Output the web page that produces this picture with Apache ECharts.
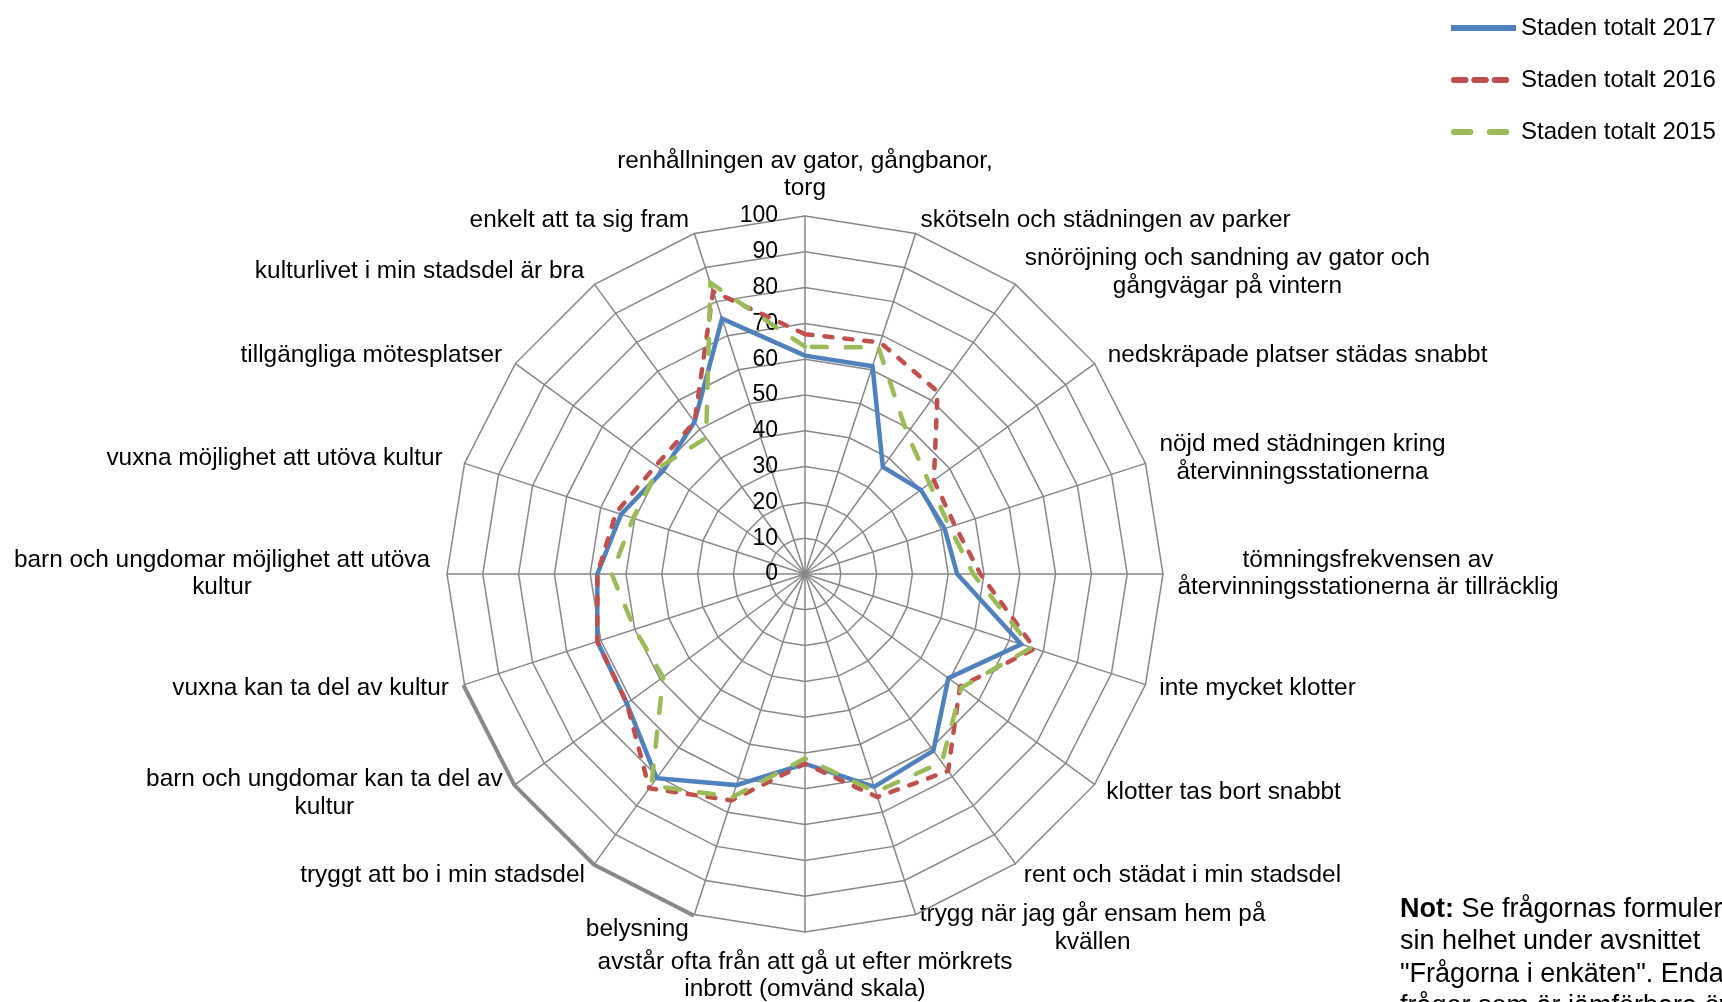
<!DOCTYPE html>
<html><head><meta charset="utf-8">
<script src="https://cdn.jsdelivr.net/npm/echarts@6/dist/echarts.min.js"></script>
<style>html,body{margin:0;padding:0;background:#fff;overflow:hidden}#c{width:1722px;height:1002px}</style>
</head><body><div id="c"></div>
<script>
// Categories in clockwise order starting at the top
const categories = [
  'renhållningen av gator, gångbanor,\ntorg',
  'skötseln och städningen av parker',
  'snöröjning och sandning av gator och\ngångvägar på vintern',
  'nedskräpade platser städas snabbt',
  'nöjd med städningen kring\nåtervinningsstationerna',
  'tömningsfrekvensen av\nåtervinningsstationerna är tillräcklig',
  'inte mycket klotter',
  'klotter tas bort snabbt',
  'rent och städat i min stadsdel',
  'trygg när jag går ensam hem på\nkvällen',
  'avstår ofta från att gå ut efter mörkrets\ninbrott (omvänd skala)',
  'belysning',
  'tryggt att bo i min stadsdel',
  'barn och ungdomar kan ta del av\nkultur',
  'vuxna kan ta del av kultur',
  'barn och ungdomar möjlighet att utöva\nkultur',
  'vuxna möjlighet att utöva kultur',
  'tillgängliga mötesplatser',
  'kulturlivet i min stadsdel är bra',
  'enkelt att ta sig fram'
];
const values2017 = [61, 61, 37, 40, 41, 42.5, 63.5, 49.5, 61, 62.5, 53, 62, 70.5, 61.5, 61, 58, 54, 49, 52.5, 75];
const values2016 = [67, 68, 63, 44.5, 44, 49, 67.5, 53.5, 68, 65.5, 53, 66.5, 74, 61.5, 61, 58, 55.5, 51.5, 52.5, 83];
const values2015 = [63.5, 66.5, 48.5, 43, 42.5, 47, 66.5, 54, 65, 64, 51.5, 65.5, 73, 49, 50, 54, 50.5, 50.5, 47, 85.5];
const seriesNames = ['Staden totalt 2017', 'Staden totalt 2016', 'Staden totalt 2015'];
const axisMin = 0, axisMax = 100, axisSplits = 10;

// layout
const RC = [805, 574], RR = 358;
// offset of each category label centre from the end of its spoke (px)
const labelOffsets = [
  [0, -41], [190, -13], [212, -12], [203, -8], [157, -5], [205, 0], [112, 4], [129, 8], [167, 12], [177, 14],
  [0, 44], [-57, 15], [-152, 12], [-191, 9], [-154, 4], [-225, 0], [-190, -5], [-144, -8], [-175, -13], [-115, -13]
];

const FONT = '"Liberation Sans", Arial, sans-serif';
const GRID = '#878787';
const colors = ['#4F81BD', '#C0504D', '#9BBB59'];
const lineTypes = ['solid', [8, 12], [15, 19]];

const n = categories.length;
// ECharts radar runs counter-clockwise; reorder to get clockwise
const order = categories.map((_, k) => (n - k) % n);
const indicator = order.map(i => {
  const o = { name: categories[i], min: axisMin, max: axisMax };
  if (i === 0) {
    o.axisLabel = { show: true, fontSize: 23, color: '#000', fontFamily: FONT, margin: 27 };
  }
  return o;
});
const reorder = arr => order.map(i => arr[i]);
const allValues = [values2017, values2016, values2015];

function spokeEnd(i, extra) {
  const a = i * 2 * Math.PI / n;
  const r = RR + (extra || 0);
  return [RC[0] + r * Math.sin(a), RC[1] - r * Math.cos(a)];
}

const nameTexts = categories.map((c, i) => {
  const e = spokeEnd(i);
  return {
    type: 'text', silent: true,
    x: e[0] + labelOffsets[i][0], y: e[1] + labelOffsets[i][1],
    style: { text: c, fill: '#000', fontSize: 24.4, fontFamily: FONT, lineHeight: 27.5, align: 'center', verticalAlign: 'middle' }
  };
});

// thicker shadow segment of the outer ring at lower left (as in the original)
const shadowPts = [14, 13, 12, 11].map(i => spokeEnd(i, 1.5));

const chart = echarts.init(document.getElementById('c'));
chart.setOption({
  backgroundColor: '#fff',
  animation: false,
  legend: {
    orient: 'vertical', left: 1446, top: 11, itemWidth: 65, itemHeight: 6, itemGap: 28,
    textStyle: { fontSize: 24, color: '#000', fontFamily: FONT },
    selectedMode: false,
    data: [
      { name: seriesNames[0], icon: 'path://M0,0H65V6H0Z' },
      { name: seriesNames[1], icon: 'path://M1,0H13A3,3 0 0 1 13,6H1A3,3 0 0 1 1,0Z M22,0H34A3,3 0 0 1 34,6H22A3,3 0 0 1 22,0Z M43,0H55A3,3 0 0 1 55,6H43A3,3 0 0 1 43,0Z M64.9,0H65V0.1H64.9Z' },
      { name: seriesNames[2], icon: 'path://M1,0H18A3,3 0 0 1 18,6H1A3,3 0 0 1 1,0Z M38,0H55A3,3 0 0 1 55,6H38A3,3 0 0 1 38,0Z M64.9,0H65V0.1H64.9Z' }
    ]
  },
  radar: {
    center: RC,
    radius: RR,
    startAngle: 90,
    shape: 'polygon',
    splitNumber: axisSplits,
    indicator: indicator,
    axisName: { show: false },
    axisLabel: { show: false },
    axisTick: { show: false },
    axisLine: { lineStyle: { color: GRID, width: 1.5 } },
    splitLine: { lineStyle: { color: GRID, width: 1.5 } },
    splitArea: { show: false }
  },
  series: [{
    type: 'radar',
    symbol: 'none',
    silent: true,
    data: allValues.map((vals, s) => ({
      name: seriesNames[s],
      value: reorder(vals),
      itemStyle: { color: colors[s] },
      lineStyle: { color: colors[s], width: 4.5, type: lineTypes[s], cap: s === 0 ? 'butt' : 'round', join: 'miter' }
    }))
  }],
  graphic: nameTexts.concat([
    {
      type: 'polyline', silent: true, z: -1,
      shape: { points: shadowPts },
      style: { stroke: '#8a8a8a', lineWidth: 3.5, fill: null }
    },
    {
      type: 'text', left: 1400, top: 893, silent: true,
      style: {
        text: '{b|Not:} Se frågornas formuleringar i\nsin helhet under avsnittet\n"Frågorna i enkäten". Endast\nfrågor som är jämförbara över tid',
        fontSize: 27, lineHeight: 32.5, fill: '#000', fontFamily: FONT,
        rich: { b: { fontWeight: 'bold', fontSize: 27, lineHeight: 32.5, fontFamily: FONT } }
      }
    }
  ])
});
</script></body></html>
